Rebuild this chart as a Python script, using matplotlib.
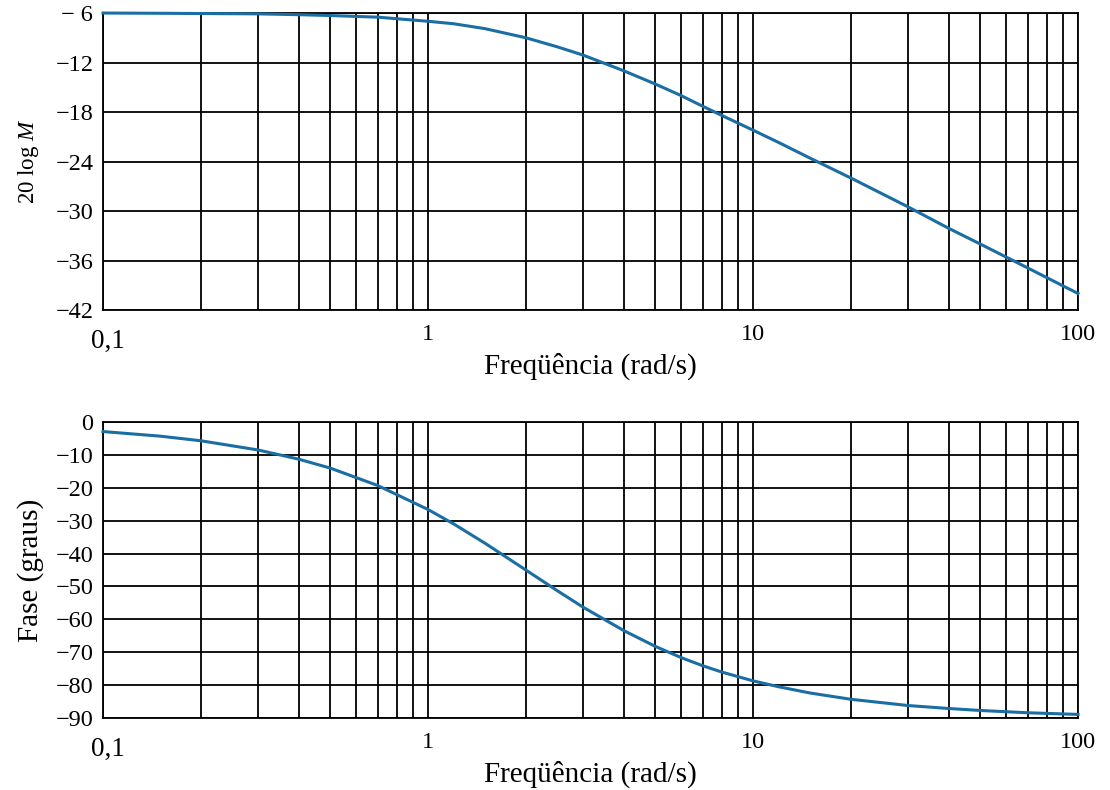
import numpy as np
import matplotlib.pyplot as plt
from matplotlib.ticker import FixedLocator, NullFormatter
from matplotlib.transforms import ScaledTranslation

plt.rcParams['font.family'] = ['Liberation Serif', 'DejaVu Serif']
plt.rcParams['mathtext.fontset'] = 'custom'
plt.rcParams['mathtext.rm'] = 'Liberation Serif'
plt.rcParams['mathtext.it'] = 'Liberation Serif:italic'

# valori
freq = [0.1, 0.15, 0.2, 0.3, 0.4, 0.5, 0.7, 1.0, 1.2, 1.5, 2.0, 2.5, 3.0, 4.0,
        5.0, 6.0, 7.0, 8.0, 10.0, 12.0, 15.0, 20.0, 30.0, 40.0, 50.0, 70.0, 100.0]
mag_db = [-6.0, -6.03, -6.06, -6.1, -6.2, -6.3, -6.5, -7.0, -7.3, -7.9, -9.0,
          -10.1, -11.1, -13.0, -14.6, -16.0, -17.3, -18.4, -20.2, -21.7, -23.6,
          -26.0, -29.5, -32.1, -34.0, -36.9, -40.0]
fase = [-2.9, -4.3, -5.7, -8.5, -11.3, -14.0, -19.3, -26.6, -31.0, -36.9, -45.0,
        -51.3, -56.3, -63.4, -68.2, -71.6, -74.1, -76.0, -78.7, -80.5, -82.4,
        -84.3, -86.2, -87.1, -87.7, -88.4, -88.9]

mag_ticks = [-6, -12, -18, -24, -30, -36, -42]
mag_labels = ['\u2212 6', '\u221212', '\u221218', '\u221224', '\u221230', '\u221236', '\u221242']
fase_ticks = [0, -10, -20, -30, -40, -50, -60, -70, -80, -90]
fase_labels = ['0'] + ['\u2212%d' % abs(v) for v in fase_ticks[1:]]
x_ticks = [0.1, 1, 10, 100]
x_labels = ['0,1', '1', '10', '100']

col = '#1a6ea3'
griglia = [k * 10.0**e for e in (-1, 0, 1) for k in range(1, 10)] + [100]

fig = plt.figure(figsize=(11.1, 7.9), dpi=100)
ax1 = fig.add_axes((0.0928, 0.6076, 0.8784, 0.3759))
ax2 = fig.add_axes((0.0928, 0.0911, 0.8784, 0.3747))

def prepara(ax, yt, yl, ylim):
    ax.set_xscale('log')
    ax.set_xlim(0.1, 100)
    ax.set_ylim(*ylim)
    ax.xaxis.set_minor_locator(FixedLocator(griglia))
    ax.xaxis.set_minor_formatter(NullFormatter())
    ax.set_xticks(x_ticks)
    ax.set_xticklabels(x_labels)
    ax.set_yticks(yt)
    ax.set_yticklabels(yl)
    ax.grid(True, which='minor', axis='x', color='black', lw=1.3)
    ax.grid(True, which='major', axis='both', color='black', lw=1.3)
    ax.tick_params(which='both', length=0)
    ax.tick_params(axis='x', pad=10, labelsize=17.5)
    ax.tick_params(axis='y', pad=7, labelsize=17.5)
    for s in ax.spines.values():
        s.set_color('black')
        s.set_linewidth(1.3)
    # "0,1" piu' grande e spostato
    lab = ax.get_xticklabels()[0]
    lab.set_fontsize(19.5)
    lab.set_transform(lab.get_transform() + ScaledTranslation(0.05, -0.05, fig.dpi_scale_trans))
    ax.set_xlabel('Freqüência (rad/s)', fontsize=21, labelpad=-1)

prepara(ax1, mag_ticks, mag_labels, (-42, -6))
ax1.plot(freq, mag_db, color=col, lw=2.2, clip_on=False, zorder=5)
ax1.set_ylabel('20 log $\\it{M}$', fontsize=16.5, labelpad=10)

prepara(ax2, fase_ticks, fase_labels, (-90, 0))
ax2.plot(freq, fase, color=col, lw=2.2, clip_on=False, zorder=5)
ax2.set_ylabel('Fase (graus)', fontsize=21, labelpad=8)

fig.savefig('out.png', dpi=100)
